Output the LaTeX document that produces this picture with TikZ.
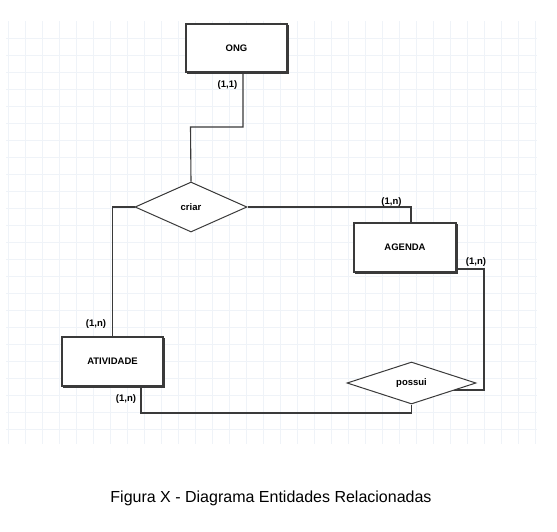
\documentclass[tikz,border=0pt]{standalone}
\usepackage{fontspec}
\setmainfont{Liberation Sans}
\usetikzlibrary{shapes.geometric,backgrounds}
\definecolor{gridc}{HTML}{EFF3F8}
\definecolor{linec}{HTML}{3A3A3A}
\tikzset{
  entity/.style={draw=linec, line width=1.1pt, fill=white, minimum width=101pt, minimum height=48pt, inner sep=0pt,
    font=\fontsize{9.5}{10}\selectfont\bfseries},
  rel/.style={draw=linec, line width=1pt, fill=white, diamond, inner sep=0pt, font=\fontsize{9.5}{10}\selectfont\bfseries},
  conn/.style={draw=linec, line width=1.1pt},
  shade/.style={fill=linec},
  card/.style={font=\fontsize{9.5}{10}\selectfont\bfseries, inner sep=0pt},
  gridline/.style={draw=gridc, line width=1pt}
}
\begin{document}
\begin{tikzpicture}[x=1pt,y=-1pt]
\useasboundingbox (0,0) rectangle (557,531);
% entities
\node[entity] (ong) at (236.5,48) {ONG};
\node[entity, minimum width=102pt, minimum height=49pt] (agenda) at (405,247.5) {AGENDA};
\node[entity, minimum height=49pt] (ativ) at (112.5,361.5) {ATIVIDADE};
% relationships
\node[rel, minimum width=112pt, minimum height=50pt, shape aspect=2.24] (criar) at (191,207) {criar};
\node[rel, minimum width=129pt, minimum height=42pt, shape aspect=3.07] (possui) at (411.5,383) {possui};
% coordinates
\coordinate (k1) at (190.5,127);
\coordinate (k2) at (484,390);
\coordinate (k3) at (411.5,413);
\begin{scope}[on background layer]
  \fill[white] (0,0) rectangle (557,531);
  \foreach \i in {0,...,31} \draw[gridline] (8+17*\i,21) -- (8+17*\i,444);
  \foreach \j in {0,...,23} \draw[gridline] (6,38+17*\j) -- (537,38+17*\j);
  \draw[conn] ([xshift=6.5pt]ong.south) |- (k1) -- (criar.north);
  \draw[conn] (criar.west) -| (ativ.north);
  \draw[conn] (criar.east) -| ([xshift=6pt]agenda.north);
  \draw[conn] ([yshift=-21.5pt]agenda.east) -| (k2) -- (possui.center |- k2);
  \draw[conn] ([xshift=28.5pt]ativ.south) |- (k3) -- (possui.south);
  \foreach \n in {ong,agenda,ativ}
    \fill[shade] ([shift={(1.4,1.4)}]\n.north west) rectangle ([shift={(1.4,1.4)}]\n.south east);
\end{scope}
% cardinalities
\node[card] (c1) at (227.5,85) {(1,1)};
\node[card] (c2) at (391.5,202) {(1,n)};
\node[card] (c3) at (476,262) {(1,n)};
\node[card] (c4) at (96,324) {(1,n)};
\node[card] (c5) at (126,399) {(1,n)};
% caption
\node[font=\fontsize{16}{18}\selectfont] (cap) at (271,498) {Figura X - Diagrama Entidades Relacionadas};
\end{tikzpicture}
\end{document}
